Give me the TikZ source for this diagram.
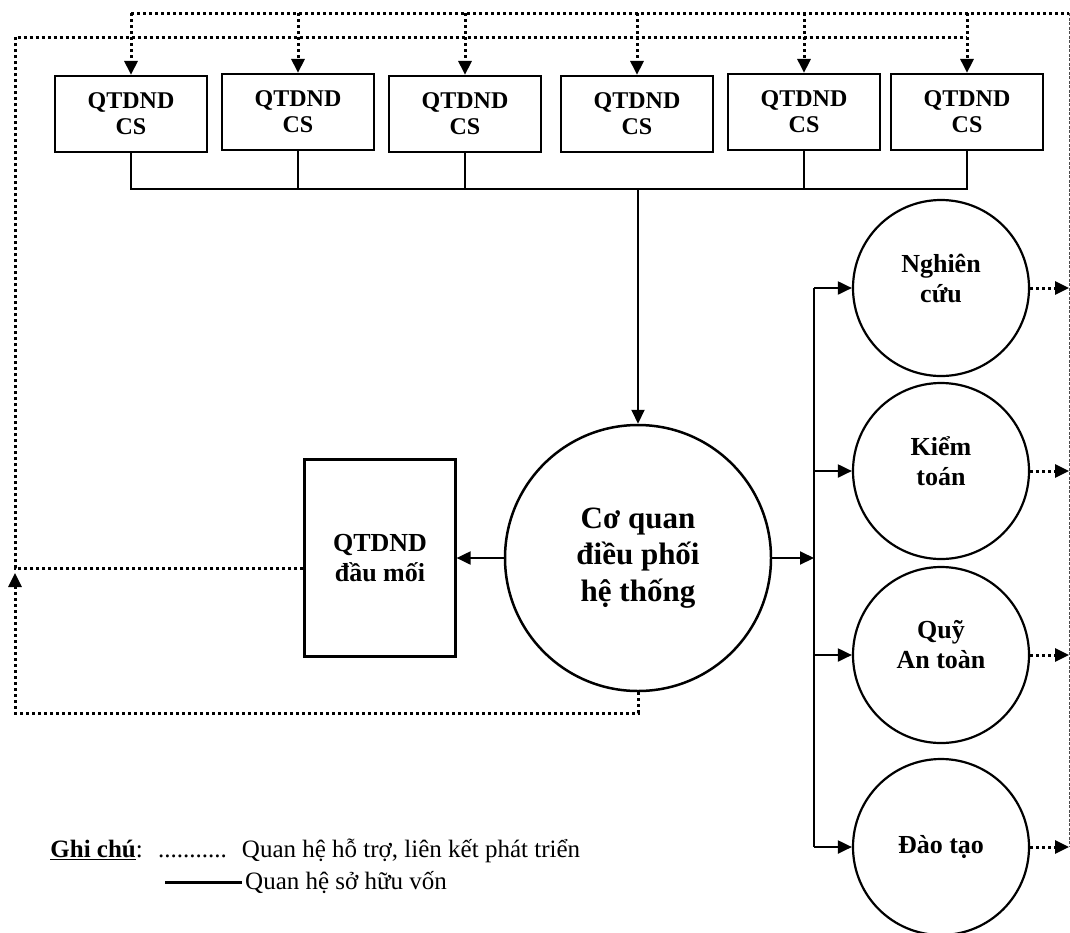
\documentclass[tikz,border=0pt]{standalone}
\usepackage{fontspec}
\setmainfont{Liberation Serif}
\usetikzlibrary{arrows.meta,positioning,calc}

\begin{document}
\begin{tikzpicture}[x=1pt,y=-1pt,
    own/.style={line width=2pt},
    support/.style={line width=3pt, dash pattern=on 3pt off 3pt},
    thinline/.style={line width=0.8pt, dash pattern=on 3pt off 1.5pt, black!70},
    headarrow/.style={-{Triangle[length=14pt,width=13pt]}},
    csbox/.style={draw, line width=2.2pt, minimum width=152pt, minimum height=76pt,
        inner sep=0pt, align=center, font=\fontsize{24}{26}\selectfont\bfseries},
    unit/.style={draw, circle, line width=2.2pt, minimum size=176pt, inner sep=0pt,
        align=center, font=\fontsize{26}{30}\selectfont\bfseries},
    unitlabel/.style={align=center, yshift=10pt, font=\fontsize{26}{30}\selectfont\bfseries},
    legend/.style={inner sep=0pt, font=\fontsize{25}{30}\selectfont}
]
            \useasboundingbox (0,0) rectangle (1070,932);

            % Draw the row of QTDND CS boxes
            \foreach \x/\y [count=\i] in {131/114,298/112,465/114,637/114,804/112,967/112} {
                \node[csbox] (cs\i) at (\x,\y) {QTDND\\CS};
            }

            % Centre and side units
            \node[draw, circle, line width=2.5pt, minimum size=266pt, inner sep=0pt, align=center,
                font=\fontsize{31}{36.5}\selectfont\bfseries] (core) at (638,558) {Cơ quan\\điều phối\\hệ thống};
            \node[draw, line width=2.2pt, minimum width=151pt, minimum height=197pt, align=center,
                font=\fontsize{26}{30}\selectfont\bfseries] (dm) at (380,558) {QTDND\\đầu mối};

            \node[unit, label={[unitlabel]center:{Nghiên\\cứu}}] (nc) at (941,288) {};
            \node[unit, label={[unitlabel]center:{Kiểm\\toán}}] (kt) at (941,471) {};
            \node[unit, label={[unitlabel]center:{Quỹ\\An toàn}}] (qa) at (941,655) {};
            \node[unit] (dt) at (941,847) {Đào tạo};

            \coordinate (bus) at (638,189);
            \coordinate (rb) at (814,0);
            \coordinate (tl) at (0,13);
            \coordinate (tr) at (1069,13);
            \coordinate (lt) at (15,37);
            \coordinate (lb) at (15,713);
            \coordinate (la) at (15,573);

            % Ownership lines (solid)
            \draw[own] (cs1.south) |- (bus) -| (cs6.south);
            \foreach \i in {2,3,5} {
                \draw[own] (cs\i.south) -- (cs\i.south |- bus);
            }
            \draw[own,headarrow] (bus) -- (core.north);
            \draw[own,headarrow] (core.west) -- (dm.east);
            \draw[own,headarrow] (core.east) -- (core.east -| rb);
            \draw[own] (nc.west -| rb) -- (dt.west -| rb);
            \foreach \n in {nc,kt,qa,dt} {
                \draw[own,headarrow] (\n.west -| rb) -- (\n.west);
            }

            % Support lines (dotted)
            \draw[support] (cs1.north |- tl) -- (tr);
            \foreach \i in {1,...,6} {
                \draw[support,headarrow] (cs\i.north |- tl) -- (cs\i.north);
            }
            \draw[thinline] (tr) -- (tr |- dt.east);
            \foreach \n in {nc,kt,qa,dt} {
                \draw[support,headarrow] (\n.east) -- (\n.east -| tr);
            }
            \draw[support] ([yshift=-10pt]dm.west) -| (lt) -- (cs6.north |- lt);
            \draw[support,headarrow] (core.south) |- (lb) -- (la);

            % Legend
            \node[legend, anchor=base east] (gc) at (143,857) {\underline{\textbf{Ghi chú}}:};
            \node[legend, anchor=base west] (lg1) at (158,857) {...........\hspace{15pt}Quan hệ hỗ trợ, liên kết phát triển};
            \node[legend, anchor=base west] (lg2) at (245,889) {Quan hệ sở hữu vốn};
            \draw[line width=3pt] ([xshift=-80pt]lg2.west) -- ([xshift=-3pt]lg2.west);
        \end{tikzpicture}
\end{document}
